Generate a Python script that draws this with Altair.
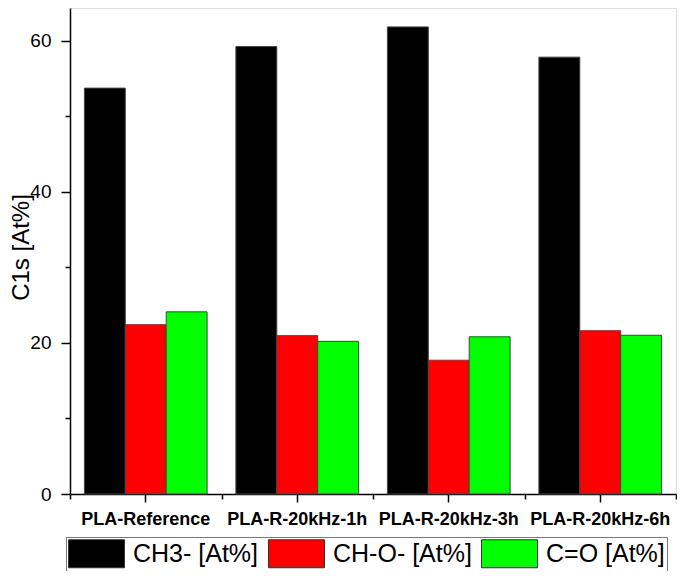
import altair as alt
import pandas as pd

samples = ["PLA-Reference", "PLA-R-20kHz-1h", "PLA-R-20kHz-3h", "PLA-R-20kHz-6h"]
series = ["CH3- [At%]", "CH-O- [At%]", "C=O [At%]"]
ch3 = [53.7, 59.2, 61.8, 57.8]
cho = [22.4, 20.95, 17.7, 21.6]
co = [24.1, 20.2, 20.8, 21.0]
colors = ["#000000", "#ff0000", "#00ff00"]
y_major = [0, 20, 40, 60]
y_minor = [10, 30, 50]

rows = []
for i, s in enumerate(samples):
    for name, vals in zip(series, [ch3, cho, co]):
        rows.append({"sample": s, "series": name, "value": vals[i], "gidx": i})
df = pd.DataFrame(rows)

FONT = "Liberation Sans"
ydom = [0, 64.3]

bars = alt.Chart(df).mark_bar(stroke="#444444", strokeWidth=1).encode(
    x=alt.X(
        "sample:N",
        sort=samples,
        scale=alt.Scale(paddingInner=0.19, paddingOuter=0.095),
        axis=alt.Axis(
            title=None, labelAngle=0, labelFontSize=18, labelFontWeight="bold",
            labelFont=FONT, labelColor="black", tickSize=8, labelPadding=8,
            tickColor="black", domainColor="black", domainWidth=1.5, tickWidth=1.5,
            labelLimit=300,
        ),
    ),
    xOffset=alt.XOffset("series:N", sort=series, scale=alt.Scale(paddingInner=0, paddingOuter=0)),
    y=alt.Y(
        "value:Q",
        scale=alt.Scale(domain=ydom, nice=False),
        axis=alt.Axis(
            values=y_major, title="C1s [At%]", titleFontSize=24, titleFont=FONT,
            titleFontWeight="normal", titleColor="black", titleX=-37, titleY=239,
            titleAngle=-90, titleAlign="center", titleBaseline="bottom",
            labelFontSize=19, labelFont=FONT, labelColor="black", tickSize=9,
            labelPadding=10, tickColor="black", domainColor="black", domainWidth=1.5,
            tickWidth=1.5, grid=False,
        ),
    ),
    color=alt.Color(
        "series:N",
        sort=series,
        scale=alt.Scale(domain=series, range=colors),
        legend=alt.Legend(
            title=None, orient="none", direction="horizontal", legendX=-4, legendY=529,
            symbolType="M-2,-1L2,-1L2,1L-2,1Z", symbolSize=784, symbolOffset=14,
            symbolStrokeColor="#333333", symbolStrokeWidth=1, symbolOpacity=1,
            labelFontSize=25, labelFont=FONT, labelColor="black", labelOffset=22,
            columnPadding=7, padding=2, strokeColor="#777777", labelLimit=400,
        ),
    ),
)

minor = alt.Chart(df).mark_point(opacity=0).encode(
    x=alt.X(
        "gidx:Q",
        scale=alt.Scale(domain=[0, 4], nice=False, zero=False),
        axis=alt.Axis(orient="bottom", values=[0, 1, 2, 3, 4], labels=False, domain=False,
                      tickSize=5, tickColor="black", tickWidth=1.5, title=None, grid=False),
    ),
    y=alt.Y(
        "value:Q",
        scale=alt.Scale(domain=ydom, nice=False),
        axis=alt.Axis(orient="left", values=y_minor, labels=False, domain=False,
                      tickSize=5, tickColor="black", tickWidth=1.5, title=None, grid=False),
    ),
)

chart = (
    alt.layer(bars, minor)
    .resolve_scale(x="independent")
    .resolve_axis(x="independent", y="independent")
    .properties(
        width=606, height=486,
        autosize=alt.AutoSizeParams(type="none"),
        padding={"left": 62, "top": 0, "right": 1, "bottom": 77},
    )
    .configure_view(strokeWidth=0)
    .configure(font=FONT)
)

chart.save("out.html", embed_options={"renderer": "svg", "actions": False})
